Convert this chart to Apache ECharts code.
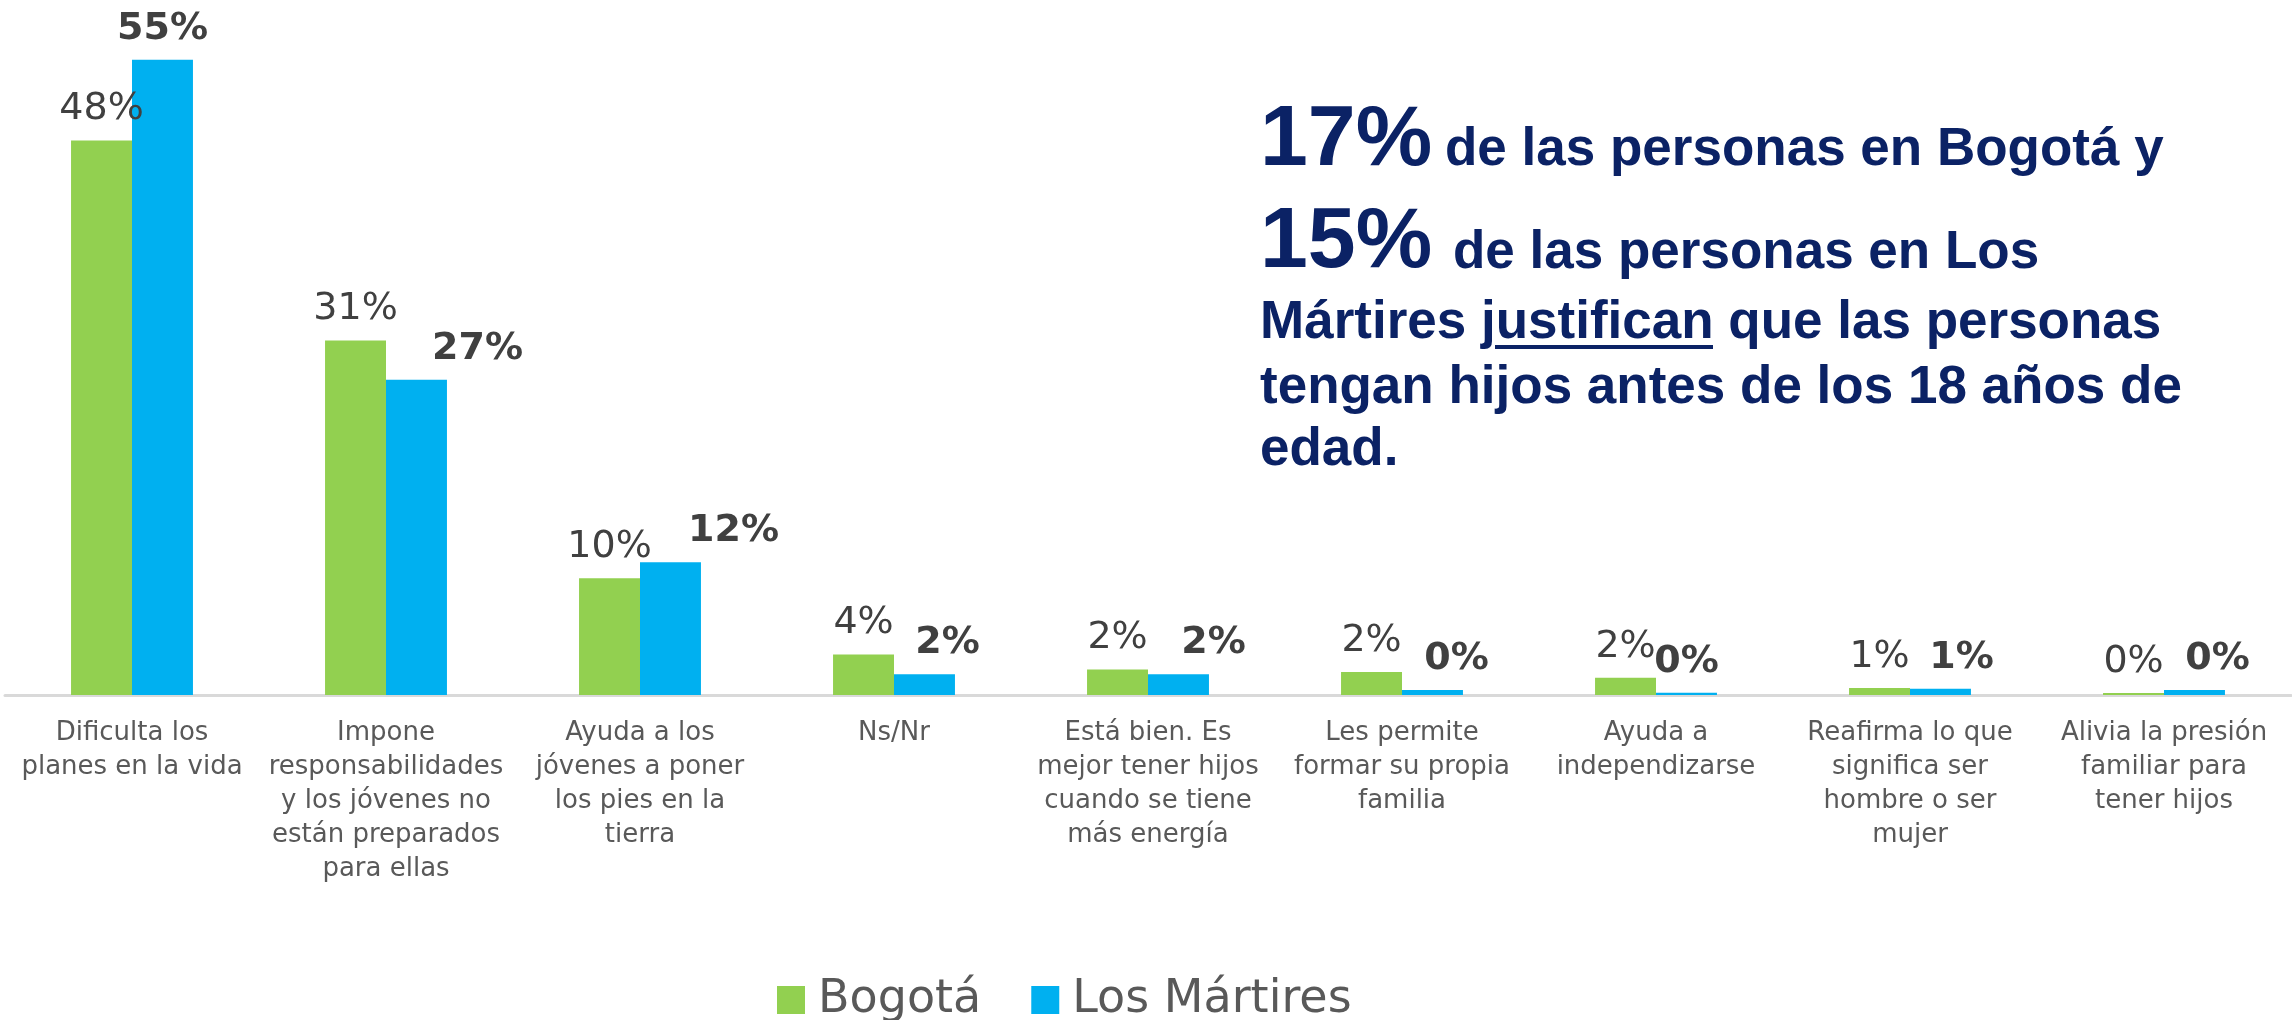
<!DOCTYPE html>
<html>
<head>
<meta charset="utf-8">
<script src="https://cdn.jsdelivr.net/npm/echarts@6/dist/echarts.min.js"></script>
<style>
  html, body { margin: 0; padding: 0; background: #fff; }
  #chart { width: 2292px; height: 1020px; }
</style>
</head>
<body>
<div id="chart"></div>
<script>
// categorias (razones)
var categorias = [
  'Dificulta los\nplanes en la vida',
  'Impone\nresponsabilidades\ny los jóvenes no\nestán preparados\npara ellas',
  'Ayuda a los\njóvenes a poner\nlos pies en la\ntierra',
  'Ns/Nr',
  'Está bien. Es\nmejor tener hijos\ncuando se tiene\nmás energía',
  'Les permite\nformar su propia\nfamilia',
  'Ayuda a\nindependizarse',
  'Reafirma lo que\nsignifica ser\nhombre o ser\nmujer',
  'Alivia la presión\nfamiliar para\ntener hijos'
]
// porcentajes
var bogota = [48, 30.7, 10.1, 3.5, 2.2, 2.0, 1.5, 0.6, 0.17]
var martires = [55, 27.3, 11.5, 1.8, 1.8, 0.43, 0.2, 0.55, 0.43]
// corrimiento horizontal de las etiquetas de Los Mártires (px)
var corrimiento = [0, 61, 63, 23, 35, 24, 0, 21, 23]

var chart = echarts.init(document.getElementById('chart'))

var navy = '#0b2265'
var fmt = function (p) { return Math.round(p.value) + '%' }

var option = {
  animation: false,
  grid: {
    left: 5,
    right: 1,
    top: 2,
    bottom: 325,
    containLabel: false
  },
  legend: {
    left: 777,
    top: 977,
    padding: 0,
    itemWidth: 28,
    itemHeight: 28,
    itemGap: 50,
    icon: 'rect',
    textStyle: {
      fontFamily: 'DejaVu Sans',
      fontSize: 46,
      color: '#595959',
      padding: [0, 0, 0, 8]
    },
    data: ['Bogotá', 'Los Mártires']
  },
  xAxis: {
    type: 'category',
    data: categorias,
    axisTick: { show: false },
    axisLine: { lineStyle: { color: '#d9d9d9', width: 3 } },
    axisLabel: {
      interval: 0,
      margin: 21,
      fontFamily: 'DejaVu Sans',
      fontSize: 26,
      lineHeight: 34,
      color: '#595959',
      verticalAlign: 'top'
    }
  },
  yAxis: {
    type: 'value',
    min: 0,
    max: 60,
    show: false,
    splitLine: { show: false }
  },
  series: [
    {
      name: 'Bogotá',
      type: 'bar',
      data: bogota,
      barGap: '0%',
      barCategoryGap: '52%',
      itemStyle: { color: '#92d050' },
      label: {
        show: true,
        position: 'top',
        distance: 12,
        fontFamily: 'DejaVu Sans',
        fontSize: 38,
        color: '#404040',
        formatter: fmt
      }
    },
    {
      name: 'Los Mártires',
      type: 'bar',
      data: martires.map(function (v, i) {
        return { value: v, label: { offset: [corrimiento[i], 0] } }
      }),
      itemStyle: { color: '#00b0f0' },
      label: {
        show: true,
        position: 'top',
        distance: 12,
        fontFamily: 'DejaVu Sans',
        fontWeight: 'bold',
        fontSize: 38,
        color: '#404040',
        formatter: fmt
      }
    }
  ],
  graphic: [
    { type: 'text', style: { x: 1260, y: 184, text: '17%', fill: navy, fontFamily: 'Liberation Sans', fontWeight: 'bold', fontSize: 86, verticalAlign: 'bottom' } },
    { type: 'text', style: { x: 1445, y: 177, text: 'de las personas en Bogotá y', fill: navy, fontFamily: 'Liberation Sans', fontWeight: 'bold', fontSize: 53, verticalAlign: 'bottom' } },
    { type: 'text', style: { x: 1260, y: 286, text: '15%', fill: navy, fontFamily: 'Liberation Sans', fontWeight: 'bold', fontSize: 86, verticalAlign: 'bottom' } },
    { type: 'text', style: { x: 1453, y: 280, text: 'de las personas en Los', fill: navy, fontFamily: 'Liberation Sans', fontWeight: 'bold', fontSize: 53, verticalAlign: 'bottom' } },
    { type: 'text', style: { x: 1260, y: 350, text: 'Mártires justifican que las personas', fill: navy, fontFamily: 'Liberation Sans', fontWeight: 'bold', fontSize: 53, verticalAlign: 'bottom' } },
    { type: 'text', style: { x: 1260, y: 415, text: 'tengan hijos antes de los 18 años de', fill: navy, fontFamily: 'Liberation Sans', fontWeight: 'bold', fontSize: 53, verticalAlign: 'bottom' } },
    { type: 'text', style: { x: 1260, y: 477, text: 'edad.', fill: navy, fontFamily: 'Liberation Sans', fontWeight: 'bold', fontSize: 53, verticalAlign: 'bottom' } },
    // subrayado de "justifican"
    { type: 'line', shape: { x1: 1495, y1: 347, x2: 1713, y2: 347 }, style: { stroke: navy, lineWidth: 4 } }
  ]
}
chart.setOption(option)
</script>
</body>
</html>
